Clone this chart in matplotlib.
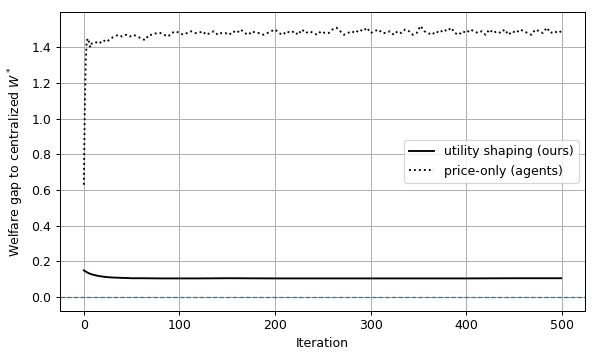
import matplotlib
matplotlib.use("Agg")
import matplotlib.pyplot as plt

# utility shaping (ours): welfare gap per iteration
util_iter = [0, 3, 6, 10, 15, 20, 25, 30, 40, 50, 60, 80, 100, 120, 150,
             200, 250, 300, 350, 400, 450, 499]
util_gap = [0.150, 0.140, 0.132, 0.125, 0.119, 0.115, 0.112, 0.110, 0.108,
            0.106, 0.106, 0.105, 0.105, 0.105, 0.106, 0.105, 0.105, 0.105,
            0.105, 0.105, 0.106, 0.106]

# price-only (agents)
price_iter = [0, 1, 2, 3, 4, 5, 6, 7, 8] + list(range(12, 500, 4)) + [499]
price_gap = [
    0.63, 1.05, 1.33, 1.43, 1.45, 1.44, 1.41, 1.40, 1.42,
    1.43, 1.42, 1.44, 1.43, 1.45, 1.46, 1.47, 1.46, 1.47, 1.46,
    1.47, 1.46, 1.45, 1.44, 1.47, 1.47, 1.48, 1.48, 1.47, 1.46,
    1.48, 1.49, 1.48, 1.47, 1.48, 1.49, 1.48, 1.48, 1.49, 1.47,
    1.48, 1.49, 1.47, 1.48, 1.48, 1.47, 1.49, 1.48, 1.50, 1.48,
    1.47, 1.49, 1.48, 1.48, 1.47, 1.48, 1.49, 1.50, 1.48, 1.47,
    1.49, 1.48, 1.49, 1.47, 1.50, 1.48, 1.49, 1.48, 1.47, 1.49,
    1.48, 1.48, 1.50, 1.51, 1.49, 1.47, 1.48, 1.49, 1.48, 1.50,
    1.49, 1.51, 1.48, 1.49, 1.50, 1.48, 1.48, 1.49, 1.47, 1.49,
    1.48, 1.50, 1.49, 1.47, 1.48, 1.52, 1.49, 1.48, 1.47, 1.49,
    1.48, 1.50, 1.49, 1.51, 1.48, 1.47, 1.49, 1.48, 1.50, 1.49,
    1.48, 1.49, 1.47, 1.50, 1.48, 1.49, 1.48, 1.50, 1.47, 1.49,
    1.48, 1.50, 1.49, 1.48, 1.47, 1.50, 1.49, 1.48, 1.51, 1.48,
    1.49, 1.48, 1.49,
]

fig = plt.figure(figsize=(598 / 90, 359 / 90), dpi=90)
ax = fig.add_axes([0.1003, 0.1345, 0.8779, 0.8312])

ax.plot(util_iter, util_gap, color="black", label="utility shaping (ours)")
ax.plot(price_iter, price_gap, color="black", linestyle=":", label="price-only (agents)")
ax.axhline(0.0, color="C0", linestyle="--", linewidth=1)

ax.set_xlabel("Iteration")
ax.set_ylabel("Welfare gap to centralized $W^*$")
ax.grid(True)
ax.legend(loc="center right")

fig.savefig("out.png", dpi=90)
